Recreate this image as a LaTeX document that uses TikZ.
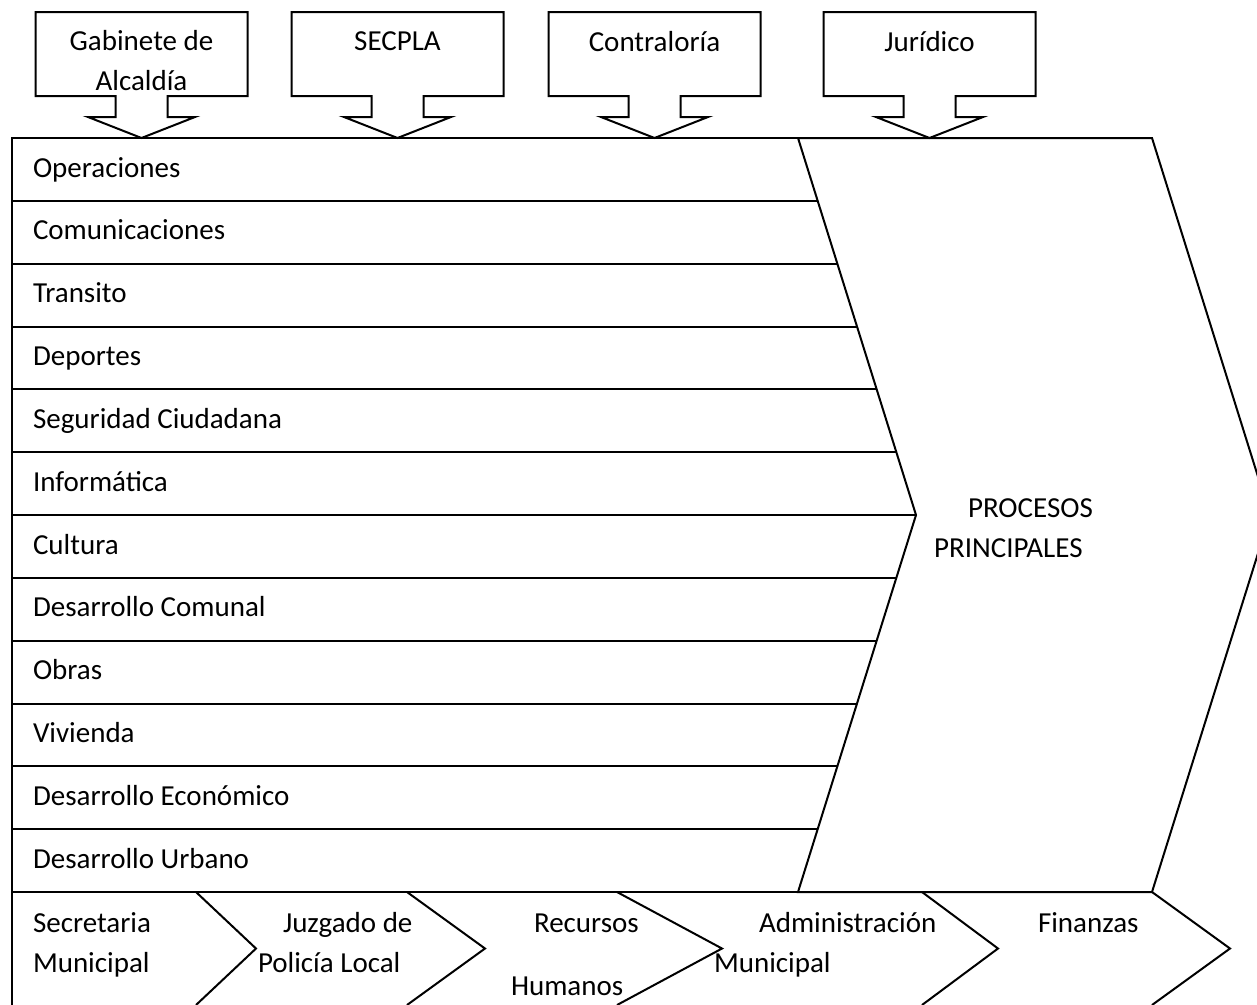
\documentclass[tikz,border=0pt]{standalone}
\usepackage{fontspec}
\setmainfont{Carlito}
\begin{document}
\begin{tikzpicture}[x=1pt,y=-1pt,line width=2pt,line join=miter,
  lbl/.style={inner sep=0pt,font=\fontsize{29}{40}\selectfont},
  shp/.style={draw=black,fill=white}]
\useasboundingbox (0,0) rectangle (1257,1004);
\clip (0,0) rectangle (1257,1004);
\fill[white] (0,0) rectangle (1257,1004);
% row separators
\foreach \i in {1,...,11} \draw (12,{138+\i*62.8333}) -- (935,{138+\i*62.8333});
% main frame
\draw (12,1010) -- (12,138) -- (800,138);
\draw (12,892) -- (800,892);
% main chevron
\draw[shp] (798,138) -- (1152,138) -- (1270,515) -- (1152,892) -- (798,892) -- (916,515) -- cycle;
% bottom chevrons
\foreach \a/\b in {196/256,407/485,617/722,922/998,1152/1230}
  \draw (\a,892) -- (\b,948.5) -- (\a,1005);
% callouts
\foreach \c in {141.5,397.5,654.5,929.5}
  \draw[shp] (\c-106,12) -- (\c+106,12) -- (\c+106,96) -- (\c+26,96) -- (\c+26,117)
    -- (\c+53.5,117) -- (\c,138) -- (\c-53.5,117) -- (\c-26,117) -- (\c-26,96)
    -- (\c-106,96) -- cycle;
% callout texts
\node[lbl,anchor=base] (gab1) at (141.5,50) {Gabinete de};
\node[lbl,anchor=base] (gab2) at (141.5,90) {Alcaldía};
\node[lbl,anchor=base] (secpla) at (397.5,50) {SECPLA};
\node[lbl,anchor=base] (contra) at (654.5,51) {Contraloría};
\node[lbl,anchor=base] (jur) at (929.5,51) {Jurídico};
% row texts
\foreach \t [count=\k from 0] in {Operaciones,Comunicaciones,Transito,Deportes,Seguridad Ciudadana,Informática,Cultura,Desarrollo Comunal,Obras,Vivienda,Desarrollo Económico,Desarrollo Urbano}
  \node[lbl,anchor=base west] (row\k) at (32,{138+\k*62.8333+39}) {\t};
% main chevron text
\node[lbl,anchor=base west] (proc1) at (967,517) {PROCESOS};
\node[lbl,anchor=base west] (proc2) at (933,557) {PRINCIPALES};
% bottom texts
\node[lbl,anchor=base west] (sec1) at (32,932) {Secretaria};
\node[lbl,anchor=base west] (sec2) at (32,972) {Municipal};
\node[lbl,anchor=base west] (juz1) at (282,932) {Juzgado de};
\node[lbl,anchor=base west] (juz2) at (257,972) {Policía Local};
\node[lbl,anchor=base west] (rec1) at (533,932) {Recursos};
\node[lbl,anchor=base west] (rec2) at (510,995) {Humanos};
\node[lbl,anchor=base west] (adm1) at (758,932) {Administración};
\node[lbl,anchor=base west] (adm2) at (713,972) {Municipal};
\node[lbl,anchor=base west] (fin) at (1037,932) {Finanzas};
\end{tikzpicture}
\end{document}
